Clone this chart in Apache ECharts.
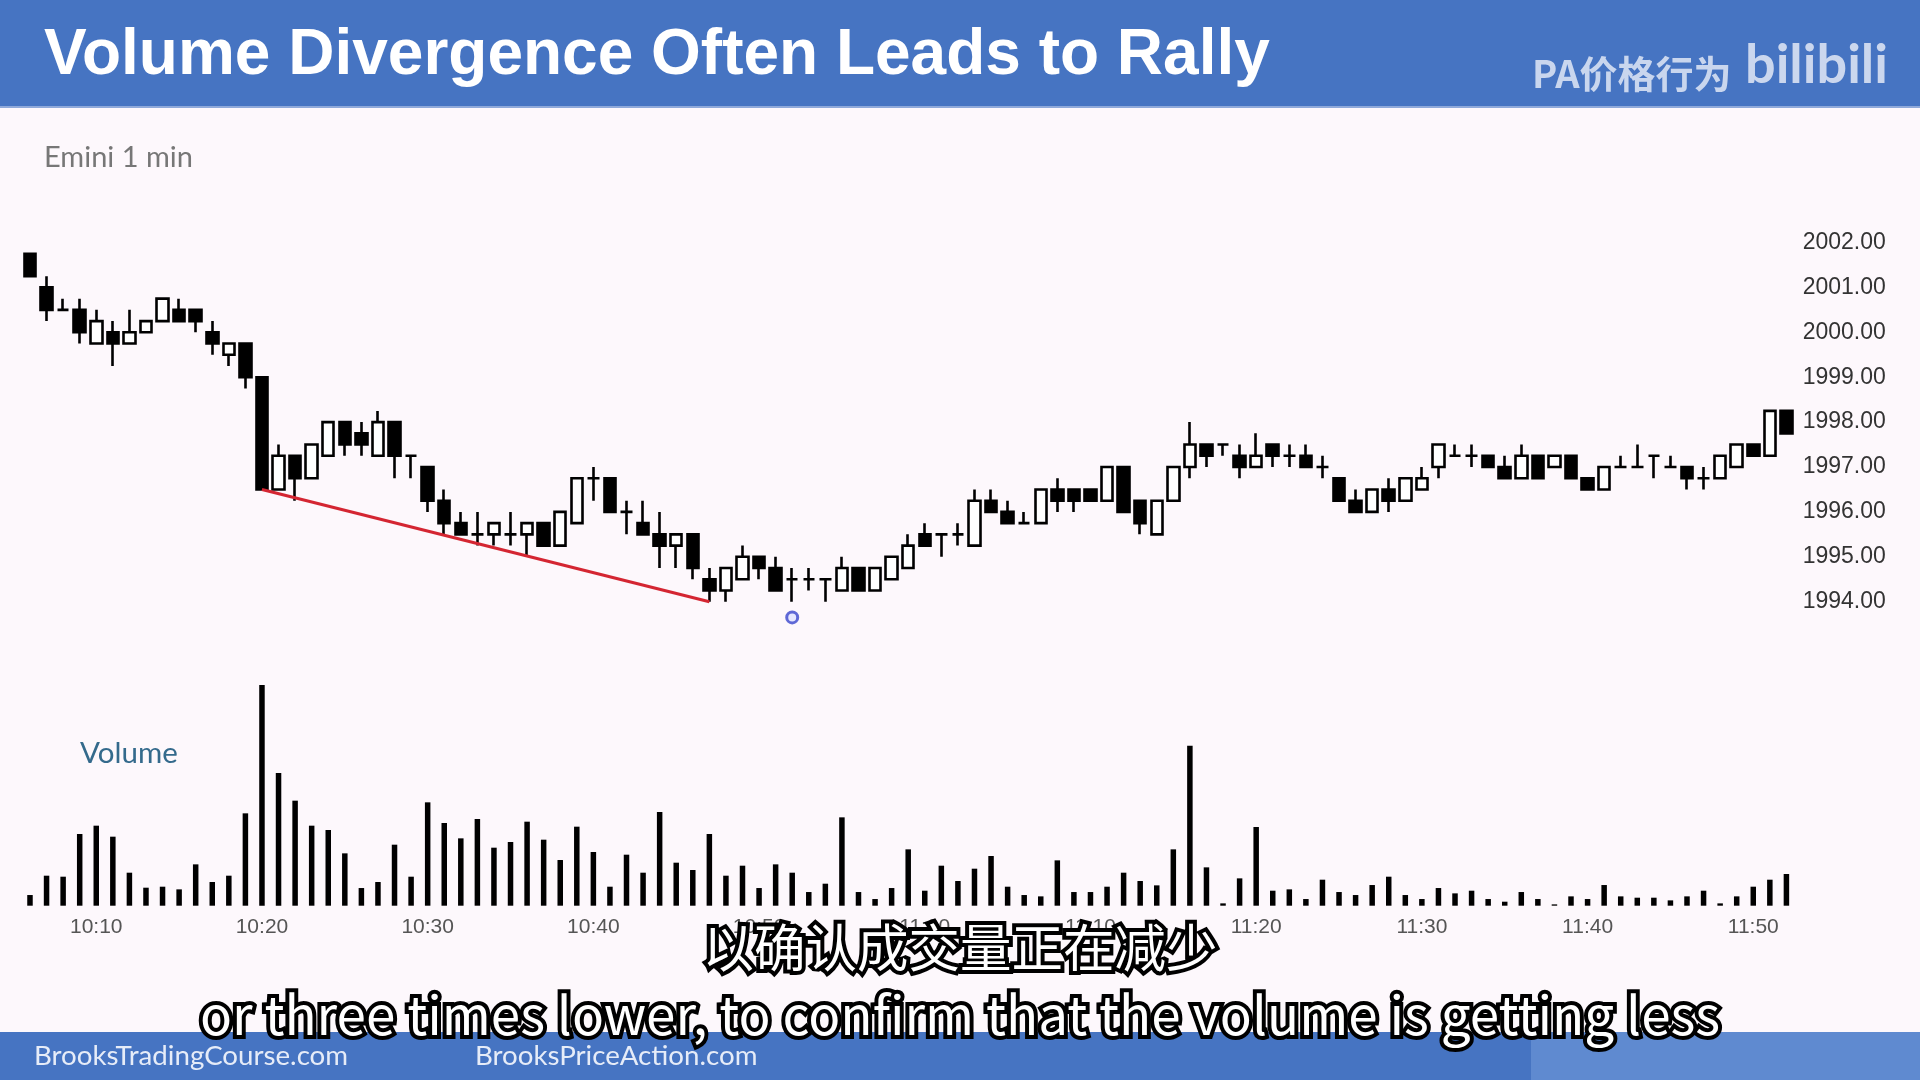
<!DOCTYPE html>
<html><head><meta charset="utf-8">
<script src="https://cdn.jsdelivr.net/npm/echarts@6/dist/echarts.min.js"></script>
<style>html,body{margin:0;padding:0;background:#fdf8fc}#c{width:1920px;height:1080px}</style>
</head><body><div id="c"></div>
<script>
// one bar per minute, 10:06 .. 11:52
const times = [];
for (let m = 6; m <= 112; m++) {
  const h = 10 + Math.floor(m / 60), mm = m % 60;
  times.push(h + ':' + String(mm).padStart(2, '0'));
}
const opens = [2001.75,2001.0,2000.5,2000.5,1999.75,2000.0,1999.75,2000.0,2000.25,2000.5,
2000.5,2000.0,1999.5,1999.75,1999.0,1996.5,1997.25,1996.75,1997.25,1998.0,
1997.75,1997.25,1998.0,1997.25,1997.0,1996.25,1995.75,1995.5,1995.5,1995.5,
1995.5,1995.75,1995.25,1995.75,1996.75,1996.75,1996.0,1995.75,1995.5,1995.25,
1995.5,1994.5,1994.25,1994.5,1995.0,1994.75,1994.5,1994.5,1994.5,1994.25,
1994.75,1994.25,1994.5,1994.75,1995.5,1995.5,1995.5,1995.25,1996.25,1996.0,
1995.75,1995.75,1996.5,1996.5,1996.5,1996.25,1997.0,1996.25,1995.5,1996.25,
1997.0,1997.5,1997.5,1997.25,1997.0,1997.5,1997.25,1997.25,1997.0,1996.75,
1996.25,1996.0,1996.5,1996.25,1996.5,1997.0,1997.25,1997.25,1997.25,1997.0,
1996.75,1997.25,1997.0,1997.25,1996.75,1996.5,1997.0,1997.0,1997.25,1997.0,
1997.0,1996.75,1996.75,1997.0,1997.5,1997.25,1998.25];
const closes = [2001.25,2000.5,2000.5,2000.0,2000.25,1999.75,2000.0,2000.25,2000.75,2000.25,
2000.25,1999.75,1999.75,1999.0,1996.5,1997.25,1996.75,1997.5,1998.0,1997.5,
1997.5,1998.0,1997.25,1997.25,1996.25,1995.75,1995.5,1995.5,1995.75,1995.5,
1995.75,1995.25,1996.0,1996.75,1996.75,1996.0,1996.0,1995.5,1995.25,1995.5,
1994.75,1994.25,1994.75,1995.0,1994.75,1994.25,1994.5,1994.5,1994.5,1994.75,
1994.25,1994.75,1995.0,1995.25,1995.25,1995.5,1995.5,1996.25,1996.0,1995.75,
1995.75,1996.5,1996.25,1996.25,1996.25,1997.0,1996.0,1995.75,1996.25,1997.0,
1997.5,1997.25,1997.5,1997.0,1997.25,1997.25,1997.25,1997.0,1997.0,1996.25,
1996.0,1996.5,1996.25,1996.75,1996.75,1997.5,1997.25,1997.25,1997.0,1996.75,
1997.25,1996.75,1997.25,1996.75,1996.5,1997.0,1997.0,1997.0,1997.25,1997.0,
1996.75,1996.75,1997.25,1997.5,1997.25,1998.25,1997.75];
const highs = [2001.75,2001.25,2000.75,2000.75,2000.5,2000.25,2000.5,2000.25,2000.75,2000.75,
2000.5,2000.25,1999.75,1999.75,1999.0,1997.5,1997.25,1997.5,1998.0,1998.0,
1998.0,1998.25,1998.0,1997.25,1997.0,1996.5,1996.0,1996.0,1995.75,1996.0,
1995.75,1995.75,1996.0,1996.75,1997.0,1996.75,1996.25,1996.25,1996.0,1995.5,
1995.5,1994.75,1994.75,1995.25,1995.0,1995.0,1994.75,1994.75,1994.5,1995.0,
1994.75,1994.75,1995.0,1995.5,1995.75,1995.5,1995.75,1996.5,1996.5,1996.25,
1996.0,1996.5,1996.75,1996.5,1996.5,1997.0,1997.0,1996.25,1996.25,1997.0,
1998.0,1997.5,1997.5,1997.5,1997.75,1997.5,1997.5,1997.5,1997.25,1996.75,
1996.5,1996.5,1996.75,1996.75,1997.0,1997.5,1997.5,1997.5,1997.25,1997.25,
1997.5,1997.25,1997.25,1997.25,1996.75,1997.0,1997.25,1997.5,1997.25,1997.25,
1997.0,1997.0,1997.25,1997.5,1997.5,1998.25,1998.25];
const lows = [2001.25,2000.25,2000.5,1999.75,1999.75,1999.25,1999.75,2000.0,2000.25,2000.25,
2000.0,1999.5,1999.25,1998.75,1996.5,1996.5,1996.25,1996.75,1997.25,1997.25,
1997.25,1997.25,1996.75,1996.75,1996.0,1995.5,1995.5,1995.25,1995.25,1995.25,
1995.0,1995.25,1995.25,1995.75,1996.25,1996.0,1995.5,1995.5,1994.75,1994.75,
1994.5,1994.0,1994.0,1994.5,1994.5,1994.25,1994.0,1994.25,1994.0,1994.25,
1994.25,1994.25,1994.5,1994.75,1995.25,1995.0,1995.25,1995.25,1996.0,1995.75,
1995.75,1995.75,1996.0,1996.0,1996.25,1996.25,1996.0,1995.5,1995.5,1996.25,
1996.75,1997.0,1997.25,1996.75,1997.0,1997.0,1997.0,1997.0,1996.75,1996.25,
1996.0,1996.0,1996.0,1996.25,1996.5,1996.75,1997.25,1997.0,1997.0,1996.75,
1996.75,1996.75,1997.0,1996.75,1996.5,1996.5,1997.0,1997.0,1996.75,1997.0,
1996.5,1996.5,1996.75,1997.0,1997.25,1997.25,1997.75];
const volumes = [32,90,87,215,240,207,99,54,57,49,
124,71,90,277,662,398,315,240,227,157,
53,71,183,87,310,248,202,260,174,191,
252,198,137,237,161,57,153,99,281,129,
107,215,90,120,53,124,99,41,66,265,
41,20,53,169,45,120,74,111,149,57,
32,28,136,41,41,57,99,74,61,169,
480,115,7,82,236,45,49,20,78,41,
32,62,87,32,20,53,37,45,20,12,
41,20,4,28,20,62,28,24,24,16,
28,45,7,28,57,78,95];
const priceTicks = {min: 1994, max: 2002, step: 1};
const trendFrom = 14, trendTo = 41;      // red trend line: low to low
const cursorAt = {bar: 46, price: 1993.65}; // blue cursor dot in the video

const candles = times.map((t, i) => [opens[i], closes[i], lows[i], highs[i]]);

const BLUE = '#4674c2';
const chart = echarts.init(document.getElementById('c'), null, {renderer: 'canvas'});
chart.setOption({
  backgroundColor: '#fdf8fc',
  animation: false,
  grid: [
    {left: 21.7, right: 125.3, top: 242.5, bottom: 478.3},
    {left: 21.7, right: 125.3, top: 672.3, bottom: 174.3}
  ],
  xAxis: [
    {type: 'category', data: times, gridIndex: 0, boundaryGap: true,
     axisLine: {show: false}, axisTick: {show: false}, axisLabel: {show: false}, splitLine: {show: false}},
    {type: 'category', data: times, gridIndex: 1, boundaryGap: true,
     axisLine: {show: false}, axisTick: {show: false}, splitLine: {show: false},
     axisLabel: {interval: (i, v) => v.endsWith('0'), color: '#555', fontSize: 21,
                 fontFamily: 'Liberation Sans', margin: 11}}
  ],
  yAxis: [
    {type: 'value', gridIndex: 0, position: 'right', min: priceTicks.min, max: priceTicks.max,
     interval: priceTicks.step, axisLine: {show: false}, axisTick: {show: false}, splitLine: {show: false},
     axisLabel: {formatter: v => v.toFixed(2), color: '#333', fontSize: 23,
                 fontFamily: 'Liberation Sans', margin: 8}},
    {type: 'value', gridIndex: 1, min: 0, max: 700, show: false, splitLine: {show: false}}
  ],
  series: [
    {type: 'candlestick', xAxisIndex: 0, yAxisIndex: 0, data: candles, barWidth: 12,
     itemStyle: {color: '#ffffff', color0: '#000000', borderColor: '#000000',
                 borderColor0: '#000000', borderColorDoji: '#000000', borderWidth: 2.6},
     markLine: {silent: true, symbol: ['none', 'none'], label: {show: false},
       lineStyle: {color: '#d42632', width: 3, type: 'solid'},
       data: [[{coord: [times[trendFrom], lows[trendFrom]]}, {coord: [times[trendTo], lows[trendTo]]}]]}},
    {type: 'scatter', xAxisIndex: 0, yAxisIndex: 0, clip: false, symbolSize: 11,
     data: [[times[cursorAt.bar], cursorAt.price]],
     itemStyle: {color: '#dfe2ff', borderColor: '#3a46cc', borderWidth: 3}},
    {type: 'bar', xAxisIndex: 1, yAxisIndex: 1, data: volumes, barWidth: 5.5,
     itemStyle: {color: '#000000'}}
  ],
  graphic: [
    {type: 'rect', shape: {x: 0, y: 0, width: 1920, height: 107}, style: {fill: BLUE}},
    {type: 'rect', shape: {x: 0, y: 106, width: 1920, height: 2}, style: {fill: '#8fa9da'}},
    {type: 'text', x: 44, y: 56, style: {text: 'Volume Divergence Often Leads to Rally', fill: '#ffffff',
      font: 'bold 64px "Liberation Sans"', textVerticalAlign: 'middle'}},
    {type: 'text', x: 1532, y: 74, style: {text: 'PA价格行为', fill: '#c9d6ee',
      font: 'bold 38px "Noto Sans CJK SC"', textVerticalAlign: 'middle'}},
    {type: 'text', x: 1745, y: 66, style: {text: 'bilibili', fill: '#cbd7ee',
      font: 'bold 54px "Lato"', textVerticalAlign: 'middle'}},
    {type: 'text', x: 44, y: 158, style: {text: 'Emini 1 min', fill: '#777777',
      font: '29px "Lato"', textVerticalAlign: 'middle'}},
    {type: 'text', x: 80, y: 753, style: {text: 'Volume', fill: '#346a8c',
      font: '29.5px "Lato"', textVerticalAlign: 'middle'}},
    {type: 'rect', shape: {x: 0, y: 1032, width: 1920, height: 48}, style: {fill: BLUE}},
    {type: 'rect', shape: {x: 1531, y: 1032, width: 389, height: 48}, style: {fill: '#5f8ad0'}},
    {type: 'text', x: 34, y: 1056, style: {text: 'BrooksTradingCourse.com', fill: '#e6ecf8',
      font: '27.7px "Lato"', textVerticalAlign: 'middle'}},
    {type: 'text', x: 475, y: 1056, style: {text: 'BrooksPriceAction.com', fill: '#e6ecf8',
      font: '27.7px "Lato"', textVerticalAlign: 'middle'}},
    {type: 'text', x: 960, y: 947, z: 100, style: {text: '以确认成交量正在减少', fill: '#000', stroke: '#000', lineWidth: 8,
      font: '51.5px "Noto Sans CJK SC"', textAlign: 'center', textVerticalAlign: 'middle'}},
    {type: 'text', x: 960, y: 947, z: 101, style: {text: '以确认成交量正在减少', fill: '#ffffff',
      font: '51.5px "Noto Sans CJK SC"', textAlign: 'center', textVerticalAlign: 'middle'}},
    {type: 'text', x: 960, y: 1015, z: 100, style: {text: 'or three times lower, to confirm that the volume is getting less',
      fill: '#000', stroke: '#000', lineWidth: 8,
      font: '53px "Noto Sans CJK SC"', textAlign: 'center', textVerticalAlign: 'middle'}},
    {type: 'text', x: 960, y: 1015, z: 101, style: {text: 'or three times lower, to confirm that the volume is getting less',
      fill: '#ffffff', font: '53px "Noto Sans CJK SC"', textAlign: 'center', textVerticalAlign: 'middle'}}
  ]
});
</script></body></html>
